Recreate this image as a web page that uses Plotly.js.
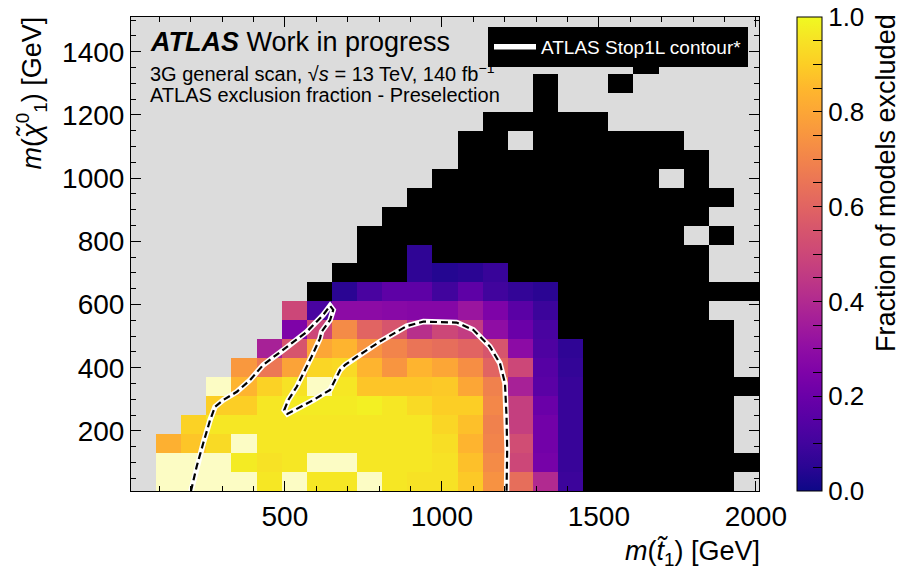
<!DOCTYPE html>
<html><head><meta charset="utf-8">
<script src="https://cdn.plot.ly/plotly-3.0.1.min.js"></script>
<style>html,body{margin:0;padding:0;background:#fff;}#chart{width:905px;height:574px;}</style>
</head><body><div id="chart"></div>
<script>
const _ = null;
// stop mass bin centres (x) and neutralino mass bin centres (y), GeV
const stopMass = [50,130,210,290,370,450,530,610,690,770,850,930,1010,1090,1170,1250,1330,1410,1490,1570,1650,1730,1810,1890,1970];
const lspMass = [40,100,160,220,280,340,400,460,520,580,640,700,760,820,880,940,1000,1060,1120,1180,1240,1300,1360,1420,1480];
// fraction of models excluded, one row per neutralino-mass bin
const frac040 = [_,1,1,1,1,.96,1,.96,.96,1,.96,.95,.95,.89,.74,.63,.40,.09,0,0,0,0,0,0,_];
const frac100 = [_,1,1,1,.97,.95,.96,1,1,.96,.96,.96,.95,.87,.72,.50,.23,.08,0,0,0,0,0,0,0];
const frac160 = [_,.83,.88,.93,1,.96,.96,.96,.96,.96,.96,.96,.94,.84,.70,.52,.22,.08,0,0,0,0,0,0,_];
const frac220 = [_,_,.91,.96,.96,.96,.96,.96,.96,.96,.96,.96,.92,.87,.69,.47,.22,.08,0,0,0,0,0,0,_];
const frac280 = [_,_,_,.90,.90,.96,.97,.97,.97,.98,.96,.93,.90,.90,.71,.47,.20,.08,0,0,0,0,0,0,_];
const frac340 = [_,_,_,1,.84,.91,.95,1,.96,.88,.88,.88,.89,.80,.69,.37,.16,.08,0,0,0,0,0,0,0];
const frac400 = [_,_,_,_,.76,.66,.79,.92,.93,.84,.75,.84,.80,.73,.60,.50,.15,.07,0,0,0,0,0,0,_];
const frac460 = [_,_,_,_,_,.37,.55,.80,.84,.75,.70,.65,.63,.60,.55,.29,.13,.06,0,0,0,0,0,0,_];
const frac520 = [_,_,_,_,_,_,.25,.50,.72,.60,.55,.42,.50,.46,.30,.20,.12,0,0,0,0,0,0,0,_];
const frac580 = [_,_,_,_,_,_,.50,.12,.29,.29,.28,.27,.27,.33,.25,.16,.09,0,0,0,0,0,0,_,_];
const frac640 = [_,_,_,_,_,_,_,0,.05,.12,.17,.17,.10,.17,.10,.07,.05,0,0,0,0,0,0,0,0];
const frac700 = [_,_,_,_,_,_,_,_,0,0,0,.06,.04,.05,.08,0,0,0,0,0,0,0,0,_,_];
const frac760 = [_,_,_,_,_,_,_,_,_,0,0,.06,0,0,0,0,0,0,0,0,0,0,0,_,_];
const frac820 = [_,_,_,_,_,_,_,_,_,0,0,0,0,0,0,0,0,0,0,0,0,0,_,0,_];
const frac880 = [_,_,_,_,_,_,_,_,_,_,0,0,0,0,0,0,0,0,0,0,0,0,0,_,_];
const frac940 = [_,_,_,_,_,_,_,_,_,_,_,0,0,0,0,0,0,0,0,0,0,0,0,0,_];
const frac1000 = [_,_,_,_,_,_,_,_,_,_,_,_,0,0,0,0,0,0,0,0,0,_,0,_,_];
const frac1060 = [_,_,_,_,_,_,_,_,_,_,_,_,_,0,0,0,0,0,0,0,0,0,0,_,_];
const frac1120 = [_,_,_,_,_,_,_,_,_,_,_,_,_,0,0,_,0,0,0,0,0,0,_,_,_];
const frac1180 = [_,_,_,_,_,_,_,_,_,_,_,_,_,_,0,0,0,0,0,_,_,_,_,_,_];
const frac1240 = [_,_,_,_,_,_,_,_,_,_,_,_,_,_,_,_,0,_,_,_,_,_,_,_,_];
const frac1300 = [_,_,_,_,_,_,_,_,_,_,_,_,_,_,_,_,0,_,_,0,_,_,_,_,_];
const frac1360 = [_,_,_,_,_,_,_,_,_,_,_,_,_,_,_,_,_,_,_,_,0,_,_,_,_];
const frac1420 = [_,_,_,_,_,_,_,_,_,_,_,_,_,_,_,_,_,_,_,_,_,_,_,_,_];
const frac1480 = [_,_,_,_,_,_,_,_,_,_,_,_,_,_,_,_,_,_,_,_,_,_,_,_,_];
// ATLAS Stop1L contour (GeV)
const contourX = [201,219,240,262,278,304,347,389,431,495,570,622,644,654,644,617,612,585,564,538,511,498,508,538,591,644,676,692,729,803,888,941,1047,1100,1153,1185,1201,1206,1208,1206];
const contourY = [10,87,161,235,277,298,324,361,409,456,514,567,596,583,551,514,493,435,393,340,298,266,254,269,298,330,393,409,435,483,532,546,543,520,467,414,351,245,140,10];

// matplotlib "plasma" colour map
const plasma = [[0.00,'#0d0887'],[0.05,'#2a0593'],[0.10,'#41049d'],[0.15,'#5601a4'],[0.20,'#6a00a8'],[0.25,'#7e03a8'],
  [0.30,'#8f0da4'],[0.35,'#a11b9b'],[0.40,'#b12a90'],[0.45,'#bf3984'],[0.50,'#cc4778'],[0.55,'#d6556d'],[0.60,'#e16462'],
  [0.65,'#ea7457'],[0.70,'#f2844b'],[0.75,'#f89540'],[0.80,'#fca636'],[0.85,'#feb72d'],[0.90,'#fcce25'],[0.95,'#f7e225'],[1.00,'#f0f921']];

const fraction = [frac040,frac100,frac160,frac220,frac280,frac340,frac400,frac460,frac520,frac580,frac640,frac700,frac760,frac820,frac880,frac940,frac1000,frac1060,frac1120,frac1180,frac1240,frac1300,frac1360,frac1420,frac1480];
const zMid = fraction.map(r => r.map(v => (v === null || v === 0 || v === 1) ? null : v));
const zZero = fraction.map(r => r.map(v => v === 0 ? 1 : null));
const zOne = fraction.map(r => r.map(v => v === 1 ? 1 : null));

const FONT = 'Liberation Sans, Arial, Helvetica, sans-serif';
const L = 131, R = 759, T = 17, B = 491;
const px = p => (p - L) / (R - L);
const py = p => (B - p) / (B - T);

const traces = [
  {type:'heatmap', x:stopMass, y:lspMass, z:zMid, zmin:0, zmax:1, colorscale:plasma, hoverinfo:'skip', showlegend:false,
   colorbar:{x:px(797), xanchor:'left', xpad:0, ypad:0, y:0.5, yanchor:'middle', len:1, lenmode:'fraction', thickness:25, thicknessmode:'pixels',
     outlinewidth:1, outlinecolor:'#000', tickmode:'linear', tick0:0, dtick:0.05, ticklabelstep:4, tickformat:'.1f',
     ticks:'inside', ticklen:9, tickcolor:'#000', tickfont:{family:FONT, size:26, color:'#000'}}},
  {type:'heatmap', x:stopMass, y:lspMass, z:zZero, zmin:0, zmax:1, colorscale:[[0,'#000'],[1,'#000']], showscale:false, hoverinfo:'skip', showlegend:false},
  {type:'heatmap', x:stopMass, y:lspMass, z:zOne, zmin:0, zmax:1, colorscale:[[0,'#fcfcc4'],[1,'#fcfcc4']], showscale:false, hoverinfo:'skip', showlegend:false},
  {type:'scatter', mode:'lines', x:contourX, y:contourY, line:{color:'#fff', width:5.5}, name:'ATLAS Stop1L contour*', hoverinfo:'skip', showlegend:true},
  {type:'scatter', mode:'lines', x:contourX, y:contourY, line:{color:'#000', width:2.2, dash:'7px,4px'}, hoverinfo:'skip', showlegend:false}
];

const axisCommon = {ticks:'inside', ticklen:10, tickwidth:1, tickcolor:'#000', mirror:'allticks', showline:true, linecolor:'#000', linewidth:1,
  showgrid:false, zeroline:false, tickfont:{family:FONT, size:28, color:'#000'}};

const layout = {
  width:905, height:574,
  margin:{l:L, r:905-R, t:T, b:574-B, pad:0},
  paper_bgcolor:'#fff', plot_bgcolor:'#dcdcdc',
  font:{family:FONT, color:'#000'},
  xaxis:Object.assign({}, axisCommon, {range:[10,2010], tick0:0, dtick:500,
    minor:{dtick:100, tick0:0, ticks:'inside', ticklen:5, tickcolor:'#000', showgrid:false}}),
  yaxis:Object.assign({}, axisCommon, {range:[10,1510], tick0:0, dtick:200,
    minor:{dtick:50, tick0:0, ticks:'inside', ticklen:5, tickcolor:'#000', showgrid:false}}),
  showlegend:true,
  legend:{x:px(748), xanchor:'right', y:py(27), yanchor:'top', bgcolor:'#000', bordercolor:'#000', borderwidth:1,
    itemwidth:42, font:{family:FONT, size:19, color:'#fff'}},
  annotations:[
    {xref:'paper', yref:'paper', x:px(148), y:py(42.5), xanchor:'left', yanchor:'middle', showarrow:false,
     text:'<b><i>ATLAS</i></b> Work in progress', font:{family:FONT, size:27, color:'#000'}},
    {xref:'paper', yref:'paper', x:px(148), y:py(72), xanchor:'left', yanchor:'middle', showarrow:false,
     text:'3G general scan, √<i>s</i> = 13 TeV, 140 fb<sup>−1</sup>', font:{family:FONT, size:20, color:'#000'}},
    {xref:'paper', yref:'paper', x:px(148), y:py(95), xanchor:'left', yanchor:'middle', showarrow:false,
     text:'ATLAS exclusion fraction - Preselection', font:{family:FONT, size:20, color:'#000'}},
    {xref:'paper', yref:'paper', x:px(762), y:py(553), xanchor:'right', yanchor:'middle', showarrow:false,
     text:'<i>m</i>(<i>t̃</i><sub>1</sub>) [GeV]', font:{family:FONT, size:27, color:'#000'}},
    {xref:'paper', yref:'paper', x:px(31), y:py(15), xanchor:'center', yanchor:'top', showarrow:false, textangle:-90,
     text:'<i>m</i>(<i>χ̃</i><sup>0</sup><sub>1</sub>) [GeV]', font:{family:FONT, size:27, color:'#000'}},
    {xref:'paper', yref:'paper', x:px(886), y:py(12), xanchor:'center', yanchor:'top', showarrow:false, textangle:-90,
     text:'Fraction of models excluded', font:{family:FONT, size:27, color:'#000'}}
  ]
};

Plotly.newPlot('chart', traces, layout, {displayModeBar:false, staticPlot:true});
</script></body></html>
